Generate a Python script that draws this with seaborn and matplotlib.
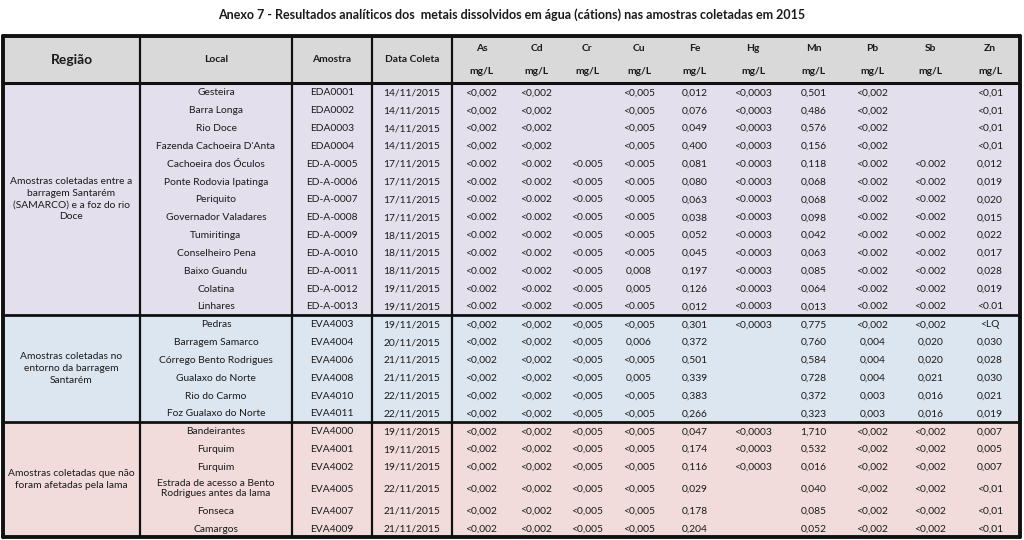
import numpy as np
import pandas as pd
import matplotlib
matplotlib.use("Agg")
import matplotlib.pyplot as plt
from matplotlib.colors import ListedColormap
import seaborn as sns


# ─── Data ─────────────────────────────────────────────────────────────────────

TITLE = ("Anexo 7 - Resultados analíticos dos  metais dissolvidos em água "
         "(cátions) nas amostras coletadas em 2015")

HEADERS = ["Região", "Local", "Amostra", "Data Coleta"]
METALS  = ["As", "Cd", "Cr", "Cu", "Fe", "Hg", "Mn", "Pb", "Sb", "Zn"]
UNIT    = "mg/L"

REGIONS = [
    "Amostras coletadas entre a\nbarragem Santarém\n(SAMARCO) e a foz do rio\nDoce",
    "Amostras coletadas no\nentorno da barragem\nSantarém",
    "Amostras coletadas que não\nforam afetadas pela lama",
]
REGION_SIZES = [13, 6, 6]

LOCAL = [
    "Gesteira", "Barra Longa", "Rio Doce", "Fazenda Cachoeira D'Anta",
    "Cachoeira dos Óculos", "Ponte Rodovia Ipatinga", "Periquito",
    "Governador Valadares", "Tumiritinga", "Conselheiro Pena", "Baixo Guandu",
    "Colatina", "Linhares",
    "Pedras", "Barragem Samarco", "Córrego Bento Rodrigues", "Gualaxo do Norte",
    "Rio do Carmo", "Foz Gualaxo do Norte",
    "Bandeirantes", "Furquim", "Furquim",
    "Estrada de acesso a Bento\nRodrigues antes da lama", "Fonseca", "Camargos",
]

AMOSTRA = [
    "EDA0001", "EDA0002", "EDA0003", "EDA0004", "ED-A-0005", "ED-A-0006",
    "ED-A-0007", "ED-A-0008", "ED-A-0009", "ED-A-0010", "ED-A-0011",
    "ED-A-0012", "ED-A-0013",
    "EVA4003", "EVA4004", "EVA4006", "EVA4008", "EVA4010", "EVA4011",
    "EVA4000", "EVA4001", "EVA4002", "EVA4005", "EVA4007", "EVA4009",
]

DATA_COLETA = [
    "14/11/2015", "14/11/2015", "14/11/2015", "14/11/2015", "17/11/2015",
    "17/11/2015", "17/11/2015", "17/11/2015", "18/11/2015", "18/11/2015",
    "18/11/2015", "19/11/2015", "19/11/2015",
    "19/11/2015", "20/11/2015", "21/11/2015", "21/11/2015", "22/11/2015",
    "22/11/2015",
    "19/11/2015", "19/11/2015", "19/11/2015", "22/11/2015", "21/11/2015",
    "21/11/2015",
]

AS = ["<0,002"] * 4 + ["<0.002"] * 9 + ["<0,002"] * 12
CD = ["<0,002"] * 4 + ["<0.002"] * 9 + ["<0,002"] * 12
CR = [""] * 4 + ["<0.005"] * 9 + ["<0,005"] * 12
CU = ["<0,005"] * 4 + ["<0.005"] * 6 + ["0,008", "0,005", "<0.005"] + \
     ["<0,005", "0,006", "<0,005", "0,005", "<0,005", "<0,005"] + ["<0,005"] * 6
FE = ["0,012", "0,076", "0,049", "0,400", "0,081", "0,080", "0,063", "0,038",
      "0,052", "0,045", "0,197", "0,126", "0,012",
      "0,301", "0,372", "0,501", "0,339", "0,383", "0,266",
      "0,047", "0,174", "0,116", "0,029", "0,178", "0,204"]
HG = ["<0,0003"] * 4 + ["<0.0003"] * 9 + ["<0,0003"] + [""] * 5 + \
     ["<0,0003"] * 3 + [""] * 3
MN = ["0,501", "0,486", "0,576", "0,156", "0,118", "0,068", "0,068", "0,098",
      "0,042", "0,063", "0,085", "0,064", "0,013",
      "0,775", "0,760", "0,584", "0,728", "0,372", "0,323",
      "1,710", "0,532", "0,016", "0,040", "0,085", "0,052"]
PB = ["<0,002"] * 4 + ["<0.002"] * 9 + \
     ["<0,002", "0,004", "0,004", "0,004", "0,003", "0,003"] + ["<0,002"] * 6
SB = [""] * 4 + ["<0.002"] * 9 + \
     ["<0,002", "0,020", "0,020", "0,021", "0,016", "0,016"] + ["<0,002"] * 6
ZN = ["<0,01"] * 4 + ["0,012", "0,019", "0,020", "0,015", "0,022", "0,017",
                      "0,028", "0,019", "<0.01"] + \
     ["<LQ", "0,030", "0,028", "0,030", "0,021", "0,019"] + \
     ["0,007", "0,005", "0,007", "<0,01", "<0,01", "<0,01"]

METAL_VALUES = [AS, CD, CR, CU, FE, HG, MN, PB, SB, ZN]


# ─── Layout (pixels of the 1024x540 canvas) ───────────────────────────────────

W, H = 1024, 540
COL_EDGES = [3, 140, 292, 372, 452, 511, 562, 612, 666, 723, 783, 844, 901,
             960, 1020]
HEAD_EDGES = [36, 59, 83]
BODY_BOTTOM = 537
TALL_ROW = 1.46

COLORS = ["#d9d9d9", "#e4dfec", "#dce6f1", "#f2dcdb"]
INK = "#1a1a1a"
FONT = ["Lato", "DejaVu Sans"]
FS = 7.4

sns.set_theme(style="white")
plt.rcParams["font.family"] = FONT

n_rows = len(LOCAL)
weights = np.array([TALL_ROW if "\n" in s else 1.0 for s in LOCAL])
body = HEAD_EDGES[-1] + (BODY_BOTTOM - HEAD_EDGES[-1]) * np.cumsum(weights) / weights.sum()
ROW_EDGES = np.concatenate([HEAD_EDGES, body])

col_idx = np.arange(len(COL_EDGES), dtype=float)
row_idx = np.arange(len(ROW_EDGES), dtype=float)


def fx(v):
    return np.interp(v, col_idx, COL_EDGES)


def ifx(p):
    return np.interp(p, COL_EDGES, col_idx)


def fy(v):
    return np.interp(v, row_idx, ROW_EDGES)


def ify(p):
    return np.interp(p, ROW_EDGES, row_idx)


# cell colour codes: 0 header, 1..3 region
group_of_row = np.repeat(np.arange(1, len(REGIONS) + 1), REGION_SIZES)
codes = np.vstack([np.zeros((2, len(COL_EDGES) - 1)),
                   np.repeat(group_of_row[:, None], len(COL_EDGES) - 1, axis=1)])
grid = pd.DataFrame(codes)

fig = plt.figure(figsize=(W / 100, H / 100), dpi=100)
ax = fig.add_axes([COL_EDGES[0] / W, 1 - BODY_BOTTOM / H,
                   (COL_EDGES[-1] - COL_EDGES[0]) / W,
                   (BODY_BOTTOM - HEAD_EDGES[0]) / H])

sns.heatmap(grid, ax=ax, cmap=ListedColormap(COLORS), vmin=-0.5, vmax=3.5,
            cbar=False, xticklabels=False, yticklabels=False, linewidths=0)

ax.set_xscale("function", functions=(fx, ifx))
ax.set_yscale("function", functions=(fy, ify))
ax.set_xlim(0, len(COL_EDGES) - 1)
ax.set_ylim(len(ROW_EDGES) - 1, 0)
ax.set_xticks([])
ax.set_yticks([])
ax.set_xlabel("")
ax.set_ylabel("")
for sp in ax.spines.values():
    sp.set_visible(False)

# header
hy = 1.0
ax.text(0.5, hy, HEADERS[0], ha="center", va="center_baseline", fontsize=10,
        fontweight="bold", color=INK)
for j, h in enumerate(HEADERS[1:], start=1):
    ax.text(j + 0.5, hy, h, ha="center", va="center_baseline", fontsize=FS,
            fontweight="bold", color=INK)
for k, m in enumerate(METALS):
    j = len(HEADERS) + k + 0.5
    ax.text(j, 0.5, m, ha="center", va="center_baseline", fontsize=FS,
            fontweight="bold", color=INK)
    ax.text(j, 1.5, UNIT, ha="center", va="center_baseline", fontsize=FS,
            fontweight="bold", color=INK)

# region labels (merged cells)
start = 2
for label, size in zip(REGIONS, REGION_SIZES):
    mid = ify((fy(start) + fy(start + size)) / 2)
    ax.text(0.5, mid, label, ha="center", va="center", fontsize=FS,
            color=INK, linespacing=1.4)
    start += size

# body cells
for i in range(n_rows):
    y = 2 + i + 0.5
    va = "center" if "\n" in LOCAL[i] else "center_baseline"
    ax.text(1.5, y, LOCAL[i], ha="center", va=va, fontsize=FS,
            color=INK, linespacing=1.2)
    ax.text(2.5, y, AMOSTRA[i], ha="center", va="center_baseline",
            fontsize=FS, color=INK)
    ax.text(3.5, y, DATA_COLETA[i], ha="center", va="center_baseline",
            fontsize=FS, color=INK)
    for k, vals in enumerate(METAL_VALUES):
        ax.text(len(HEADERS) + k + 0.5, y, vals[i], ha="center",
                va="center_baseline", fontsize=FS, color=INK)

# rules
for j in range(1, len(HEADERS) + 1):
    ax.axvline(j, color="#111111", lw=1.6)
ax.axhline(2, color="#111111", lw=2.2)
for b in np.cumsum(REGION_SIZES)[:-1]:
    ax.axhline(2 + b, color="#111111", lw=2.0)
for edge in (0, len(ROW_EDGES) - 1):
    ax.axhline(edge, color="#111111", lw=2.8, clip_on=False)
for edge in (0, len(COL_EDGES) - 1):
    ax.axvline(edge, color="#111111", lw=2.8, clip_on=False)

fig.text(0.5, 1 - 15 / H, TITLE, ha="center", va="center", fontsize=9,
         fontweight="bold", color=INK)

fig.savefig("out.png", dpi=100)
